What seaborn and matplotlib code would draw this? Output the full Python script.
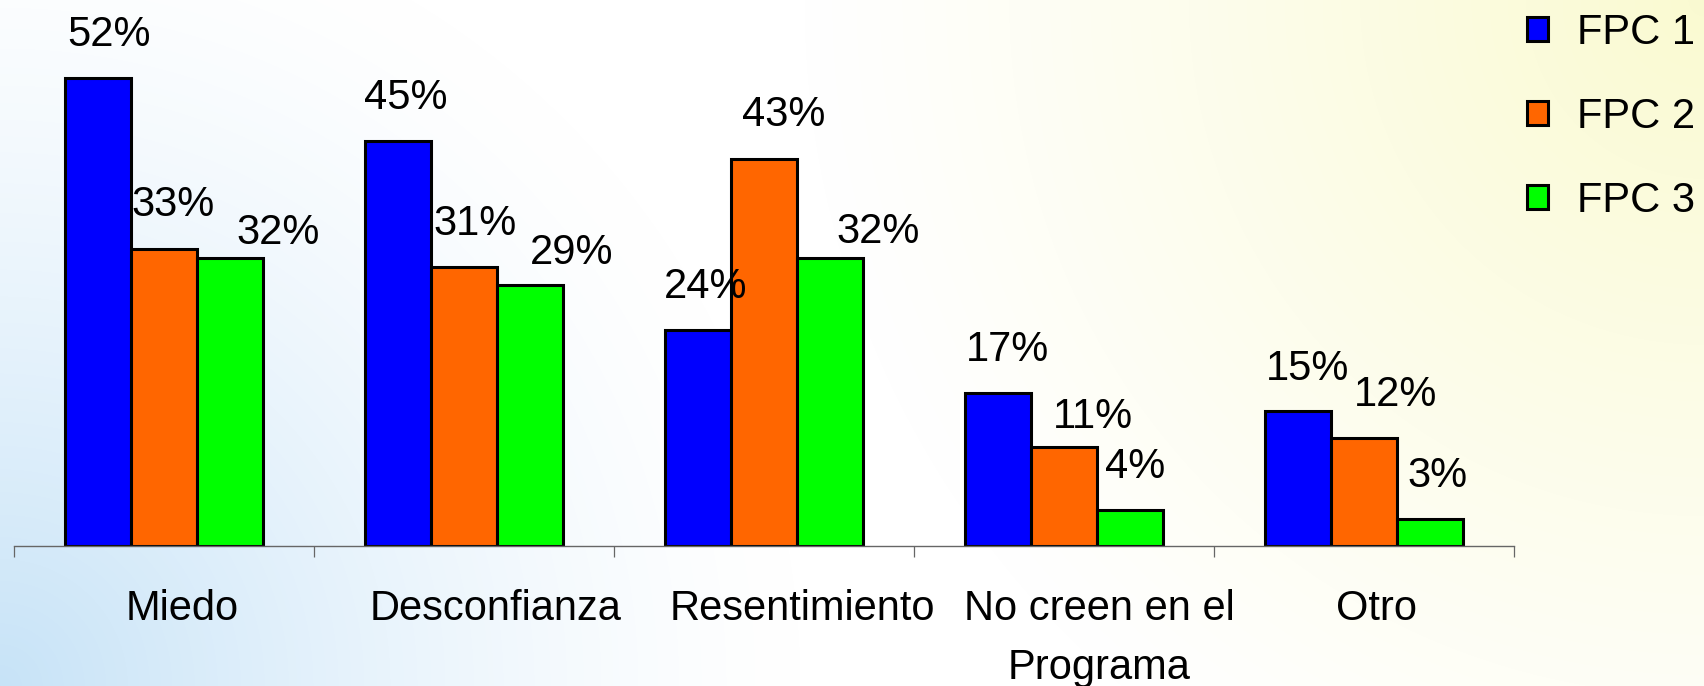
import numpy as np
import pandas as pd
import matplotlib
matplotlib.use("Agg")
import matplotlib.pyplot as plt
import matplotlib.transforms as mtransforms
from matplotlib.patches import Patch
import seaborn as sns

sns.set_style("white")
plt.rcParams["font.family"] = ["Liberation Sans", "DejaVu Sans"]
plt.rcParams["text.color"] = "black"
plt.rcParams["xtick.color"] = "#666666"
plt.rcParams["xtick.labelcolor"] = "black"
plt.rcParams["xtick.bottom"] = True

# ---- data ----
categories = ["Miedo", "Desconfianza", "Resentimiento", "No creen en el\nPrograma", "Otro"]
series = ["FPC 1", "FPC 2", "FPC 3"]
fpc1 = [52, 45, 24, 17, 15]
fpc2 = [33, 31, 43, 11, 12]
fpc3 = [32, 29, 32, 4, 3]
colors = {"FPC 1": "#0000FF", "FPC 2": "#FF6600", "FPC 3": "#00FF00"}

df = pd.DataFrame({
    "categoria": categories * 3,
    "serie": [s for s in series for _ in categories],
    "valor": fpc1 + fpc2 + fpc3,
})

# label nudges in pixels (x from bar centre, baseline above bar top)
label_dx = [[11, 8, 8, 10, 10], [9, 11, 20, 29, 32], [48, 41, 48, 5, 7]]
label_dy = [[32, 32, 32, 32, 31], [33, 32, 33, 19, 32], [14, 21, 15, 32, 32]]
cat_dx = [18, 32, 38, 35, 12]

W, H = 1704, 686
fig = plt.figure(figsize=(W / 100, H / 100), dpi=100)

# background gradient: light blue bottom-left, pale yellow top-right
bg = fig.add_axes([0, 0, 1, 1], zorder=0)
yy, xx = np.mgrid[0:H, 0:W]
wb = np.clip(1 - np.hypot(xx, H - yy) / 800, 0, 1) ** 1.4
wy = np.clip(1 - np.hypot(W - xx, yy) / 900, 0, 1) ** 1.1
blue = np.array([0.78, 0.89, 0.97])
yellow = np.array([0.98, 0.98, 0.82])
img = 1 - wb[..., None] * (1 - blue) - wy[..., None] * (1 - yellow)
bg.imshow(np.clip(img, 0, 1), aspect="auto", extent=[0, 1, 0, 1])
bg.axis("off")

ax = fig.add_axes([14 / W, 140 / H, 1500 / W, 540 / H], zorder=1)
ax.set_facecolor("none")
sns.barplot(data=df, x="categoria", y="valor", hue="serie", palette=colors,
            width=0.663, saturation=1, edgecolor="black", linewidth=2.2,
            errorbar=None, legend=False, ax=ax)

ax.set_xlim(-0.5, 4.5)
ax.set_ylim(0, 60)
ax.set_xlabel("")
ax.set_ylabel("")
ax.set_yticks([])
for s in ["left", "right", "top"]:
    ax.spines[s].set_visible(False)
ax.spines["bottom"].set_color("#666666")
ax.spines["bottom"].set_linewidth(1.0)

ax.set_xticks(np.arange(-0.5, 5, 1), minor=True)
ax.tick_params(axis="x", which="minor", bottom=True, length=8, width=0.9,
               color="#666666", direction="out")
ax.tick_params(axis="x", which="major", length=0, pad=31, labelsize=30, labelcolor="black")
for lbl, dx in zip(ax.get_xticklabels(), cat_dx):
    lbl.set_linespacing(1.62)
    lbl.set_transform(lbl.get_transform() + mtransforms.ScaledTranslation(dx / 100, 0, fig.dpi_scale_trans))

for i, cont in enumerate(ax.containers):
    for j, bar in enumerate(cont):
        h = bar.get_height()
        ax.annotate(f"{h:.0f}%", (bar.get_x() + bar.get_width() / 2, h),
                    xytext=(label_dx[i][j], label_dy[i][j]), textcoords="offset pixels",
                    ha="center", va="baseline", fontsize=30, color="black")

handles = [Patch(facecolor=colors[s], edgecolor="black", linewidth=2.2) for s in series]
leg = ax.legend(handles, series, loc="upper left", bbox_to_anchor=(1527 / W, 1 - 13 / H),
                bbox_transform=fig.transFigure, frameon=False, fontsize=30,
                handlelength=0.5, handleheight=0.5, handletextpad=0.7,
                labelspacing=1.05, borderpad=0, borderaxespad=0)
for t in leg.get_texts():
    t.set_color("black")

fig.savefig("out.png", dpi=100)
